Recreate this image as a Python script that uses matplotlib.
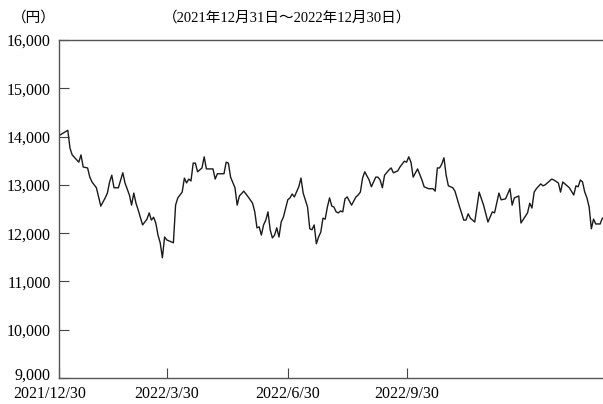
import matplotlib.pyplot as plt
from matplotlib.transforms import ScaledTranslation

plt.rcParams['font.family'] = ['Liberation Serif', 'Noto Sans CJK JP']
plt.rcParams['font.size'] = 11.5

# trading-day index (0 = 2021/12/30) and closing price (yen)
day = [0, 4, 5, 6, 9, 10, 11, 13, 14, 15, 17, 19, 21, 22, 23, 24, 25, 27, 29, 30,
       32, 33, 34, 35, 36, 38, 40, 41, 42, 43, 44, 45, 46, 47, 48, 49, 51, 52, 53, 54,
       56, 57, 58, 59, 60, 61, 62, 63, 65, 66, 67, 69, 70, 71, 72, 75, 76, 77, 78, 80,
       81, 82, 84, 86, 88, 89, 90, 91, 92, 93, 94, 95, 96, 97, 98, 99, 100, 101, 102, 104,
       105, 106, 107, 109, 110, 111, 113, 114, 115, 116, 117, 118, 119, 120, 121, 122, 123, 124, 125, 126,
       127, 128, 129, 130, 131, 133, 135, 136, 137, 138, 139, 141, 142, 144, 145, 146, 147, 148, 150, 151,
       152, 154, 155, 157, 158, 159, 160, 161, 163, 165, 166, 168, 170, 171, 172, 173, 174, 175, 176, 177,
       179, 180, 182, 184, 185, 186, 187, 189, 191, 193, 195, 197, 198, 200, 201, 203, 205, 206, 207, 209,
       210, 213, 214, 215, 216, 217, 219, 220, 221, 222, 224, 225, 227, 228, 229, 231, 232, 234, 235, 236,
       237, 238, 239, 240, 241, 242, 243, 244, 246, 247]
price = [14020, 14130, 13760, 13620, 13470, 13620, 13370, 13350, 13160, 13060, 12940, 12560, 12730, 12830, 13060, 13200, 12940, 12940, 13250, 13040,
         12790, 12580, 12830, 12620, 12480, 12170, 12290, 12420, 12270, 12330, 12210, 11960, 11800, 11490, 11920, 11860, 11820, 11800, 12580, 12730,
         12850, 13140, 13040, 13120, 13080, 13450, 13450, 13270, 13350, 13580, 13330, 13330, 13330, 13120, 13230, 13230, 13470, 13450, 13160, 12940,
         12580, 12770, 12870, 12750, 12620, 12440, 12110, 12130, 11960, 12170, 12270, 12440, 12070, 11900, 11960, 12110, 11920, 12230, 12330, 12690,
         12730, 12810, 12750, 12960, 13140, 12830, 12540, 12090, 12070, 12170, 11780, 11920, 12020, 12310, 12290, 12540, 12730, 12560, 12540, 12440,
         12420, 12460, 12440, 12710, 12750, 12580, 12750, 12790, 12850, 13140, 13270, 13100, 12960, 13160, 13160, 13100, 12940, 13200, 13310, 13350,
         13250, 13290, 13370, 13490, 13470, 13580, 13470, 13160, 13330, 13100, 12960, 12920, 12920, 12870, 13350, 13350, 13430, 13560, 13200, 12980,
         12940, 12870, 12560, 12270, 12270, 12400, 12310, 12230, 12850, 12580, 12230, 12440, 12420, 12830, 12690, 12710, 12920, 12580, 12730, 12770,
         12210, 12420, 12620, 12520, 12850, 12920, 13020, 12980, 13000, 13040, 13120, 13100, 13040, 12850, 13060, 12980, 12940, 12790, 12980, 12960,
         13100, 13060, 12850, 12730, 12540, 12090, 12290, 12190, 12190, 12310]

tick_days = [0, 49, 104, 158]
tick_labels = ['2021/12/30', '2022/3/30', '2022/6/30', '2022/9/30']
y_ticks = [9000, 10000, 11000, 12000, 13000, 14000, 15000, 16000]

fig = plt.figure(figsize=(6.03, 4.04), dpi=100)
ax = fig.add_axes([59 / 603, 1 - 378 / 404, 544 / 603, 338 / 404])

ax.plot(day, price, color='#1a1a1a', linewidth=1.0)

ax.set_xlim(0, 247.3)
ax.set_ylim(9000, 16000)
ax.set_yticks(y_ticks)
ax.set_yticklabels([f'{v:,}' for v in y_ticks])
ax.set_xticks(tick_days)
ax.set_xticklabels(tick_labels)
ax.tick_params(axis='both', direction='in', length=7, width=0.8, color='#444444')
ax.tick_params(axis='y', pad=6)
ax.tick_params(axis='x', pad=5.5)

for side in ['left', 'bottom', 'top']:
    ax.spines[side].set_color('#555555')
    ax.spines[side].set_linewidth(1.0)
ax.spines['right'].set_visible(False)

# first date label sits a bit left of its tick; lowest price label a bit higher
first = ax.get_xticklabels()[0]
first.set_transform(first.get_transform() + ScaledTranslation(-9 / 100, 0, fig.dpi_scale_trans))
low = ax.get_yticklabels()[0]
low.set_transform(low.get_transform() + ScaledTranslation(0, 4 / 100, fig.dpi_scale_trans))

fig.text(34 / 603, 1 - 18 / 404, '（円）', ha='center', va='center', fontsize=10.5)
fig.text(287 / 603, 1 - 18 / 404, '（2021年12月31日～2022年12月30日）', ha='center', va='center', fontsize=10.5)

plt.savefig('out.png', dpi=100)
